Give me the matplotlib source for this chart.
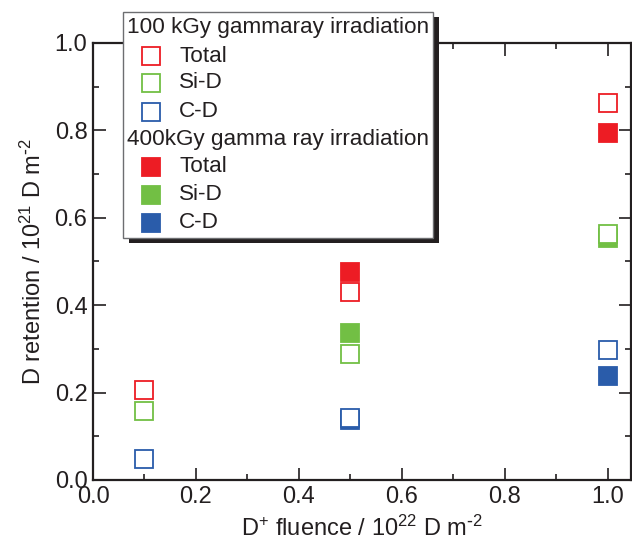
import matplotlib
matplotlib.use("Agg")
import matplotlib.pyplot as plt
from matplotlib.lines import Line2D
from matplotlib.patches import Rectangle
from matplotlib.ticker import MultipleLocator, FormatStrFormatter

plt.rcParams["font.family"] = ["Liberation Sans", "DejaVu Sans"]
plt.rcParams["mathtext.default"] = "regular"

# D+ fluence (10^22 D m^-2)
fluence = [0.1, 0.5, 1.0]
fluence_400 = [0.5, 1.0]

# 100 kGy gamma-ray irradiation (open symbols)
total_100 = [0.206, 0.430, 0.862]
sid_100 = [0.158, 0.288, 0.563]
cd_100 = [0.048, 0.142, 0.297]

# 400 kGy gamma-ray irradiation (filled symbols)
total_400 = [0.476, 0.794]
sid_400 = [0.336, 0.553]
cd_400 = [0.138, 0.239]

RED = "#ED1C24"
GREEN = "#72BF44"
BLUE = "#2A5CAA"
INK = "#231F20"

W, H = 632, 544
fig = plt.figure(figsize=(W / 100, H / 100), dpi=100)


def fx(x):
    return x / W


def fy(y):
    return 1 - y / H


ax = fig.add_axes([fx(93), fy(480), fx(631) - fx(93), fy(43) - fy(480)])

MS = 13.5
MEW = 1.3

# filled points first, open points on top
for xs, ys, c in [(fluence_400, total_400, RED),
                  (fluence_400, sid_400, GREEN),
                  (fluence_400, cd_400, BLUE)]:
    ax.plot(xs, ys, ls="none", marker="s", ms=MS, mfc=c, mec=c, mew=MEW,
            zorder=3)
for xs, ys, c in [(fluence, total_100, RED),
                  (fluence, sid_100, GREEN),
                  (fluence, cd_100, BLUE)]:
    ax.plot(xs, ys, ls="none", marker="s", ms=MS, mfc="white", mec=c,
            mew=MEW, zorder=4)

ax.set_xlim(0, 1.045)
ax.set_ylim(0, 1.0)
ax.xaxis.set_major_locator(MultipleLocator(0.2))
ax.xaxis.set_minor_locator(MultipleLocator(0.1))
ax.yaxis.set_major_locator(MultipleLocator(0.2))
ax.yaxis.set_minor_locator(MultipleLocator(0.1))
ax.xaxis.set_major_formatter(FormatStrFormatter("%.1f"))
ax.yaxis.set_major_formatter(FormatStrFormatter("%.1f"))

ax.tick_params(which="both", direction="in", top=True, right=True,
               labelsize=17, colors=INK, width=1.2)
ax.tick_params(which="major", length=9, pad=4)
ax.tick_params(which="minor", length=4.5)
for s in ax.spines.values():
    s.set_linewidth(1.6)
    s.set_color(INK)

ax.set_xlabel(r"D$^{+}$ fluence / 10$^{22}$ D m$^{\text{-}2}$", fontsize=17,
              color=INK, labelpad=6)
ax.set_ylabel(r"D retention / 10$^{21}$ D m$^{\text{-}2}$", fontsize=17,
              color=INK, labelpad=6)

# legend box with drop shadow
bx0, by0, bx1, by1 = 123, 12, 433, 238
shadow = Rectangle((fx(bx0 + 6), fy(by1 + 5)), fx(bx1 - bx0), fy(by0) - fy(by1),
                   transform=fig.transFigure, facecolor=INK,
                   edgecolor="none", zorder=10)
box = Rectangle((fx(bx0), fy(by1)), fx(bx1 - bx0), fy(by0) - fy(by1),
                transform=fig.transFigure, facecolor="white",
                edgecolor="#6D6E71", linewidth=1.0, zorder=11)
fig.add_artist(shadow)
fig.add_artist(box)

rows = [
    ("100 kGy gammaray irradiation", None, None, 28),
    ("Total", RED, False, 56),
    ("Si-D", GREEN, False, 83),
    ("C-D", BLUE, False, 112),
    ("400kGy gamma ray irradiation", None, None, 140),
    ("Total", RED, True, 167),
    ("Si-D", GREEN, True, 195),
    ("C-D", BLUE, True, 223),
]
for label, c, filled, yc in rows:
    if c is None:
        fig.text(fx(127), fy(yc), label, fontsize=16.2, color=INK,
                 ha="left", va="center", zorder=12)
    else:
        fig.add_artist(Line2D([fx(151)], [fy(yc)], transform=fig.transFigure,
                              ls="none", marker="s", ms=MS,
                              mfc=c if filled else "white", mec=c, mew=MEW,
                              zorder=12))
        fig.text(fx(179), fy(yc), label, fontsize=16.2, color=INK,
                 ha="left", va="center", zorder=12)

fig.savefig("out.png", dpi=100)
